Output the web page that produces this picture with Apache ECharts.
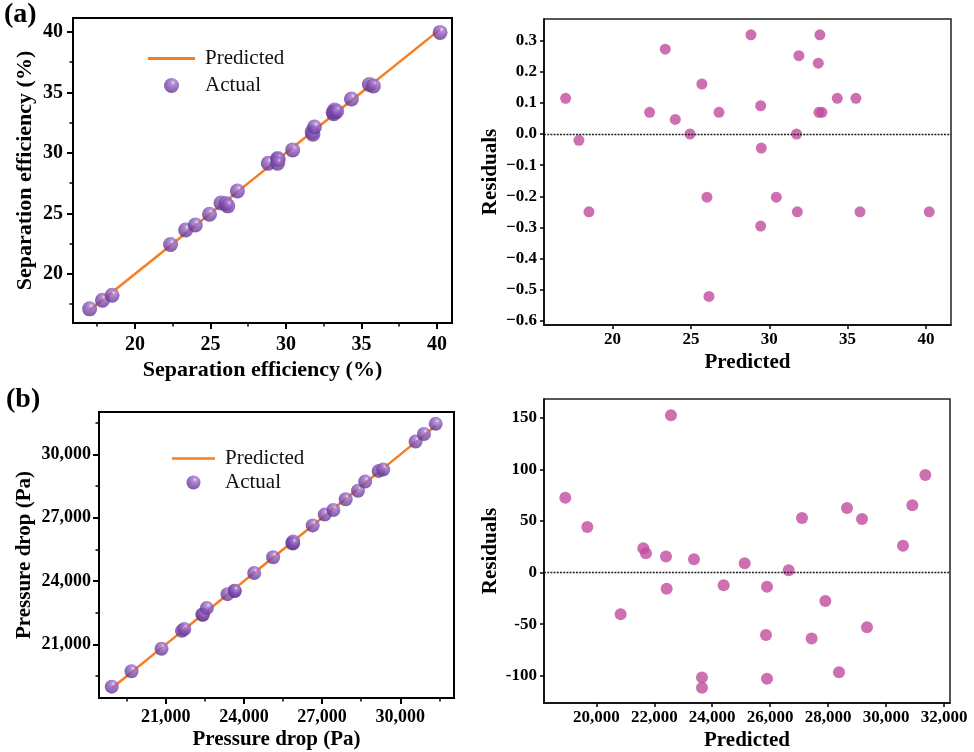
<!DOCTYPE html>
<html>
<head>
<meta charset="utf-8">
<script src="https://cdn.jsdelivr.net/npm/echarts@6/dist/echarts.min.js"></script>
<style>
html,body{margin:0;padding:0;background:#fff;}
#chart{width:974px;height:752px;}
</style>
</head>
<body>
<div id="chart"></div>
<script>
// ---- (a) Separation efficiency ----
const sepPredicted = [17.00, 17.85, 18.49, 22.36, 23.36, 24.00, 24.94, 25.70, 26.02, 26.15, 26.79, 28.83, 29.45, 29.49, 29.45, 30.45, 31.74, 31.79, 31.89, 33.13, 33.23, 33.17, 33.36, 34.34, 35.53, 35.79, 40.21];
const sepActual    = [17.12, 17.83, 18.24, 22.43, 23.63, 24.05, 24.94, 25.86, 25.82, 25.63, 26.86, 29.15, 29.54, 29.45, 29.15, 30.25, 31.74, 31.54, 32.14, 33.36, 33.55, 33.24, 33.43, 34.46, 35.65, 35.54, 39.96];
const sepResidual  = [0.115, -0.02, -0.25, 0.07, 0.273, 0.047, 0.0, 0.161, -0.203, -0.522, 0.07, 0.319, 0.091, -0.045, -0.296, -0.203, 0.0, -0.25, 0.252, 0.228, 0.319, 0.07, 0.07, 0.115, 0.115, -0.25, -0.25];
const sepTicks      = [20, 25, 30, 35, 40];
const sepMinorTicks = [17.5, 22.5, 27.5, 32.5, 37.5];
const resATicks     = [-0.6, -0.5, -0.4, -0.3, -0.2, -0.1, 0.0, 0.1, 0.2, 0.3];

// ---- (b) Pressure drop ----
const dpPredicted = [18930, 19689, 20840, 21622, 21714, 22405, 22428, 22577, 23371, 23647, 23647, 24395, 25120, 25856, 25891, 25891, 26638, 27099, 27432, 27904, 28376, 28652, 29170, 29342, 30585, 30907, 31356];
const dpActual    = [19003, 19733, 20800, 21646, 21733, 22421, 22412, 22730, 23384, 23545, 23535, 24383, 25129, 25796, 25877, 25788, 26640, 27152, 27368, 27877, 28280, 28715, 29222, 29289, 30611, 30972, 31451];
const dpResidual  = [72.7, 44.3, -40.4, 23.7, 18.9, 15.6, -15.6, 152.6, 13.1, -101.6, -111.6, -12.1, 9.2, -60.4, -13.7, -102.9, 2.4, 53.0, -63.9, -27.5, -96.5, 62.7, 52.1, -53.0, 26.0, 65.3, 94.6];
const dpTicks      = [21000, 24000, 27000, 30000];
const dpMinorTicks = [19500, 22500, 25500, 28500, 31500];
const resBxTicks   = [20000, 22000, 24000, 26000, 28000, 30000, 32000];
const resBTicks    = [-100, -50, 0, 50, 100, 150];

const SERIF = "'Liberation Serif', 'Times New Roman', serif";
const comma = v => String(Math.round(v)).replace(/\B(?=(\d{3})+(?!\d))/g, ',');
const minusFmt = v => (v < -1e-9 ? '\u2212' : '') + Math.abs(v).toFixed(1);

const ball = {
  type: 'radial', x: 0.6, y: 0.3, r: 0.75,
  colorStops: [
    {offset: 0, color: '#f3ebfa'},
    {offset: 0.16, color: '#a77dcf'},
    {offset: 0.5, color: '#8450b3'},
    {offset: 1, color: '#5a3186'}
  ]
};
const dotColor = '#c04b9d';
const lineColor = '#f57e22';
const lineIcon = 'path://M0,0 L50,0 L50,3 L0,3 Z';

function mainAxis(o) {
  return Object.assign({
    type: 'value',
    splitLine: {show: false},
    axisLine: {show: true, onZero: false, lineStyle: {color: '#000', width: o.lw || 2}},
    axisTick: {show: true, inside: false, length: o.tl || 6, customValues: o.ticks, lineStyle: {color: '#000', width: o.lw || 2}},
    axisLabel: {show: true, customValues: o.ticks, margin: o.margin, formatter: o.fmt,
      fontFamily: SERIF, fontWeight: 'bold', fontSize: o.fs, color: '#000'},
    nameLocation: 'middle',
    nameTextStyle: {fontFamily: SERIF, fontWeight: 'bold', fontSize: o.nfs, color: '#000'}
  }, o.extra);
}
function minorAxis(o) {
  return {
    type: 'value', min: o.min, max: o.max, gridIndex: o.grid, position: o.position,
    splitLine: {show: false},
    axisLine: {show: false},
    axisLabel: {show: false},
    axisTick: {show: true, inside: false, length: 3.5, customValues: o.ticks, lineStyle: {color: '#000', width: 1.5}}
  };
}

const chart = echarts.init(document.getElementById('chart'), null, {renderer: 'canvas'});

const option = {
  animation: false,
  backgroundColor: '#fff',
  grid: [
    {left: 73, top: 18, width: 379, height: 305, show: true, borderColor: '#000', borderWidth: 2, backgroundColor: 'transparent'},
    {left: 544, top: 19, width: 407, height: 306, show: true, borderColor: '#222', borderWidth: 1.5, backgroundColor: 'transparent'},
    {left: 99, top: 412, width: 355, height: 286, show: true, borderColor: '#000', borderWidth: 2, backgroundColor: 'transparent'},
    {left: 544, top: 399, width: 406, height: 305, show: true, borderColor: '#222', borderWidth: 1.5, backgroundColor: 'transparent'}
  ],
  xAxis: [
    mainAxis({ticks: sepTicks, fs: 20, nfs: 22, margin: 12, extra: {gridIndex: 0, min: 15.9, max: 41.0, position: 'bottom', name: 'Separation efficiency (%)', nameGap: 36}}),
    mainAxis({ticks: sepTicks, fs: 17, nfs: 21, margin: 6, lw: 1.5, tl: 4, extra: {gridIndex: 1, min: 15.62, max: 41.6, position: 'bottom', name: 'Predicted', nameGap: 27}}),
    mainAxis({ticks: dpTicks, fs: 18, nfs: 21, margin: 10, fmt: comma, extra: {gridIndex: 2, min: 18441, max: 32059, position: 'bottom', name: 'Pressure drop (Pa)', nameGap: 31}}),
    mainAxis({ticks: resBxTicks, fs: 17, nfs: 21, margin: 6, lw: 1.5, tl: 4, fmt: comma, extra: {gridIndex: 3, min: 18195, max: 32207, position: 'bottom', name: 'Predicted', nameGap: 27}}),
    minorAxis({grid: 0, min: 15.9, max: 41.0, position: 'bottom', ticks: sepMinorTicks}),
    minorAxis({grid: 2, min: 18441, max: 32059, position: 'bottom', ticks: dpMinorTicks})
  ],
  yAxis: [
    mainAxis({ticks: sepTicks, fs: 20, nfs: 22, margin: 10, extra: {gridIndex: 0, min: 15.95, max: 41.15, position: 'left', name: 'Separation efficiency (%)', nameGap: 37}}),
    mainAxis({ticks: resATicks, fs: 17, nfs: 21, margin: 7, lw: 1.5, tl: 4, fmt: minusFmt, extra: {gridIndex: 1, min: -0.614, max: 0.37, position: 'left', name: 'Residuals', nameGap: 43}}),
    mainAxis({ticks: dpTicks, fs: 18, nfs: 21, margin: 8, fmt: comma, extra: {gridIndex: 2, min: 18465, max: 32013, position: 'left', name: 'Pressure drop (Pa)', nameGap: 64}}),
    mainAxis({ticks: resBTicks, fs: 17, nfs: 21, margin: 7, lw: 1.5, tl: 4, extra: {gridIndex: 3, min: -126.4, max: 168.4, position: 'left', name: 'Residuals', nameGap: 43}}),
    minorAxis({grid: 0, min: 15.95, max: 41.15, position: 'left', ticks: sepMinorTicks}),
    minorAxis({grid: 2, min: 18465, max: 32013, position: 'left', ticks: dpMinorTicks})
  ],
  legend: [
    {left: 148, top: 48, orient: 'vertical', padding: 0, itemWidth: 47, itemHeight: 15, itemGap: 6,
     selectedMode: false,
     textStyle: {fontFamily: SERIF, fontSize: 21, color: '#111', padding: [0, 0, 0, 5]},
     data: [{name: 'Predicted', icon: lineIcon}, {name: 'Actual'}]},
    {left: 172, top: 448, orient: 'vertical', padding: 0, itemWidth: 43, itemHeight: 14, itemGap: 3,
     selectedMode: false,
     textStyle: {fontFamily: SERIF, fontSize: 21, color: '#111', padding: [0, 0, 0, 5]},
     data: [{name: 'Predicted', icon: lineIcon}, {name: 'Actual'}]}
  ],
  graphic: [
    {type: 'text', left: 4, top: 1, style: {text: '(a)', font: "bold 28px 'Liberation Serif', serif", fill: '#000'}},
    {type: 'text', left: 6, top: 386, style: {text: '(b)', font: "bold 28px 'Liberation Serif', serif", fill: '#000'}}
  ],
  series: [
    {name: 'Predicted', type: 'line', xAxisIndex: 0, yAxisIndex: 0, symbol: 'none', z: 2,
     lineStyle: {color: lineColor, width: 2.5}, itemStyle: {color: lineColor},
     data: sepPredicted.map(p => [p, p]).sort((a, b) => a[0] - b[0])},
    {name: 'Actual', type: 'scatter', xAxisIndex: 0, yAxisIndex: 0, symbolSize: 15, z: 3,
     itemStyle: {color: ball},
     data: sepPredicted.map((p, i) => [p, sepActual[i]])},
    {name: 'Residual A', type: 'scatter', xAxisIndex: 1, yAxisIndex: 1, symbolSize: 11, z: 3,
     itemStyle: {color: dotColor},
     data: sepPredicted.map((p, i) => [p, sepResidual[i]]),
     markLine: {silent: true, symbol: 'none', label: {show: false}, animation: false,
       lineStyle: {color: '#222', type: [2, 1.2], width: 1.3}, data: [{yAxis: 0}]}},
    {name: 'Predicted', type: 'line', xAxisIndex: 2, yAxisIndex: 2, symbol: 'none', z: 2,
     lineStyle: {color: lineColor, width: 2.5}, itemStyle: {color: lineColor},
     data: dpPredicted.map(p => [p, p]).sort((a, b) => a[0] - b[0])},
    {name: 'Actual', type: 'scatter', xAxisIndex: 2, yAxisIndex: 2, symbolSize: 14, z: 3,
     itemStyle: {color: ball},
     data: dpPredicted.map((p, i) => [p, dpActual[i]])},
    {name: 'Residual B', type: 'scatter', xAxisIndex: 3, yAxisIndex: 3, symbolSize: 12, z: 3,
     itemStyle: {color: dotColor},
     data: dpPredicted.map((p, i) => [p, dpResidual[i]]),
     markLine: {silent: true, symbol: 'none', label: {show: false}, animation: false,
       lineStyle: {color: '#222', type: [2, 1.2], width: 1.3}, data: [{yAxis: 0}]}}
  ]
};
chart.setOption(option);
</script>
</body>
</html>
